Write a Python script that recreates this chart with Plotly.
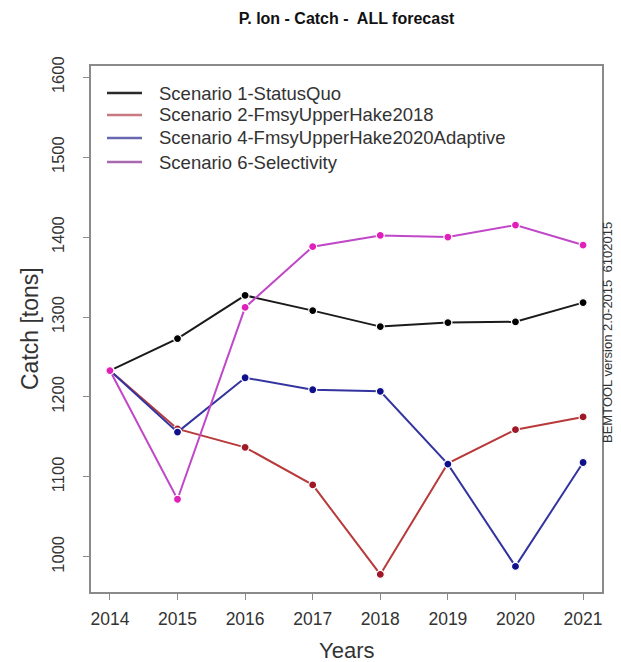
import plotly.graph_objects as go

years = [2014, 2015, 2016, 2017, 2018, 2019, 2020, 2021]
scenario_names = [
    "Scenario 1-StatusQuo",
    "Scenario 2-FmsyUpperHake2018",
    "Scenario 4-FmsyUpperHake2020Adaptive",
    "Scenario 6-Selectivity",
]
s1_status_quo = [1233, 1273, 1327, 1308, 1288, 1293, 1294, 1318]
s2_fmsy2018 = [1233, 1160, 1137, 1090, 978, 1117, 1159, 1175]
s4_fmsy2020 = [1233, 1156, 1224, 1209, 1207, 1116, 988, 1118]
s6_selectivity = [1233, 1072, 1312, 1388, 1402, 1400, 1415, 1390]
y_ticks = [1000, 1100, 1200, 1300, 1400, 1500, 1600]

series = [s1_status_quo, s2_fmsy2018, s4_fmsy2020, s6_selectivity]
line_colors = ["#1a1a1a", "#b83a3a", "#3434a0", "#c048c8"]
marker_colors = ["#000000", "#a01828", "#10108c", "#e020b8"]
legend_colors = ["#2a2a2a", "#c87a80", "#6868b0", "#a868b0"]

# figure geometry (page has an 8px body margin)
W, H = 613, 654
L, R, T, B = 83, 19, 58, 70
PW, PH = W - L - R, H - T - B

def px_x(px):
    return (px - L) / PW

def px_y(py):
    return (H - B - py) / PH

fig = go.Figure()
for name, vals, lc, mc in zip(scenario_names, series, line_colors, marker_colors):
    fig.add_trace(go.Scatter(
        x=years, y=vals, mode="lines+markers", name=name,
        line=dict(color=lc, width=2),
        marker=dict(color=mc, size=8, line=dict(color="white", width=1.2)),
        showlegend=False,
    ))

font_family = "Liberation Sans, Arial, sans-serif"
fig.update_layout(
    width=W, height=H,
    margin=dict(l=L, r=R, t=T, b=B, autoexpand=False),
    paper_bgcolor="white", plot_bgcolor="white",
    font=dict(family=font_family, color="#333333"),
    title=dict(
        text="<b>P. lon - Catch -\u00a0 ALL forecast</b>",
        x=(L + PW / 2) / W, xanchor="center",
        y=1 - 10 / H, yanchor="middle",
        font=dict(size=16, color="#111111"),
    ),
    showlegend=False,
)
fig.update_xaxes(
    range=[2013.72, 2021.28], tickmode="array", tickvals=years,
    ticktext=[str(y) for y in years],
    showgrid=False, zeroline=False, automargin=True,
    showline=True, linecolor="#8a8a8a", linewidth=1.5, mirror=True,
    ticks="outside", ticklen=6, tickcolor="#8a8a8a",
    ticklabelstandoff=4,
    tickfont=dict(size=17.5, color="#333333"),
)
fig.update_yaxes(
    range=[956, 1614], tickmode="array", tickvals=y_ticks,
    showgrid=False, zeroline=False, automargin=True,
    showline=True, linecolor="#8a8a8a", linewidth=1.5, mirror=True,
    ticks="outside", ticklen=6, tickcolor="#8a8a8a",
    tickangle=-90, ticklabelstandoff=13,
    tickfont=dict(size=16.5, color="#333333"),
)

# axis titles placed at the reference positions
fig.add_annotation(
    text="Years", xref="paper", yref="paper", x=0.5, y=px_y(642),
    xanchor="center", yanchor="middle", showarrow=False,
    font=dict(size=22, color="#333333", family=font_family),
)
fig.add_annotation(
    text="Catch [tons]", xref="paper", yref="paper", x=px_x(22), y=0.5,
    xanchor="center", yanchor="middle", textangle=-90, showarrow=False,
    font=dict(size=23, color="#333333", family=font_family),
)

# legend (box-less, R style): line sample + label per row
row_py = [85, 107, 130, 154]
for name, c, py in zip(scenario_names, legend_colors, row_py):
    fig.add_shape(
        type="line", xref="paper", yref="paper",
        x0=px_x(99), x1=px_x(134), y0=px_y(py), y1=px_y(py),
        line=dict(color=c, width=2.5),
    )
    fig.add_annotation(
        text=name, xref="paper", yref="paper", x=px_x(149), y=px_y(py),
        xanchor="left", yanchor="middle", showarrow=False,
        font=dict(size=18.5, color="#333333", family=font_family),
    )

fig.add_annotation(
    text="BEMTOOL version 2.0-2015_6102015",
    xref="paper", yref="paper", x=px_x(599), y=px_y(325),
    xanchor="center", yanchor="middle", textangle=-90, showarrow=False,
    font=dict(size=13, color="#333333", family=font_family),
)
fig.write_html("out.html")
